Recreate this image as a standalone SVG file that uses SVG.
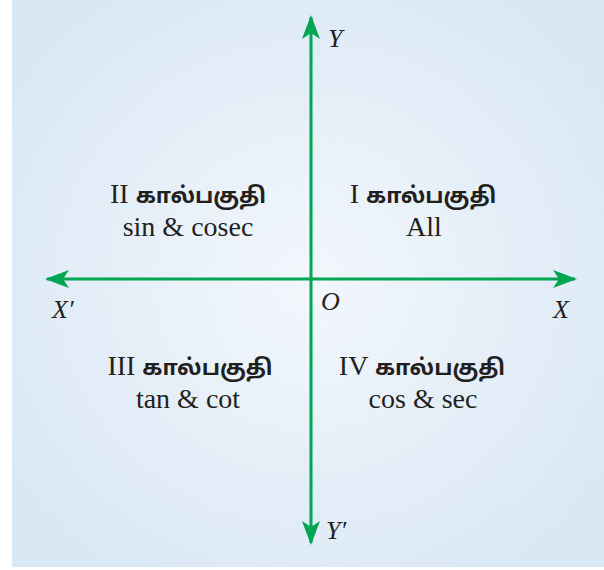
<svg xmlns="http://www.w3.org/2000/svg" width="604" height="570" viewBox="0 0 604 570">
<defs>
<radialGradient id="bg" cx="0.5" cy="0.5" r="0.6">
<stop offset="0" stop-color="#f3f7fc"/>
<stop offset="1" stop-color="#dae8f5"/>
</radialGradient>
<marker id="ah" viewBox="0 0 24 18" refX="22" refY="9" markerWidth="24" markerHeight="18" markerUnits="userSpaceOnUse" orient="auto-start-reverse">
<path d="M0,0 L24,9 L0,18 L6,9 Z" fill="#00a651"/>
</marker>
<style>
.ax{stroke:#00a651;stroke-width:3;fill:none}
.lb{font-family:'Liberation Serif','DejaVu Serif',serif;font-style:italic;font-size:26px;fill:#231f20}
.q{font-family:'Liberation Serif','DejaVu Serif',serif;font-size:28px;fill:#231f20;text-anchor:middle}
.ta{font-family:'Noto Sans Tamil','Lohit Tamil',sans-serif;font-size:22px;font-weight:bold}
</style>
</defs>
<rect x="12" y="0" width="592" height="567" fill="url(#bg)"/>
<g id="connectors">
<line class="ax" x1="311" y1="543" x2="311" y2="17" marker-start="url(#ah)" marker-end="url(#ah)"/>
<line class="ax" x1="47" y1="279" x2="575" y2="279" marker-start="url(#ah)" marker-end="url(#ah)"/>
</g>
<g id="labels">
<text class="lb" x="328" y="47">Y</text>
<text class="lb" x="326" y="539">Y′</text>
<text class="lb" x="52" y="318">X′</text>
<text class="lb" x="553" y="318">X</text>
<text class="lb" x="321" y="310">O</text>
</g>
<g id="q2">
<text class="q" x="188" y="203">II <tspan class="ta">கால்பகுதி</tspan></text>
<text class="q" x="188" y="236">sin &amp; cosec</text>
</g>
<g id="q1">
<text class="q" x="423" y="203">I <tspan class="ta">கால்பகுதி</tspan></text>
<text class="q" x="424" y="236">All</text>
</g>
<g id="q3">
<text class="q" x="190" y="375">III <tspan class="ta">கால்பகுதி</tspan></text>
<text class="q" x="188" y="408">tan &amp; cot</text>
</g>
<g id="q4">
<text class="q" x="422" y="375">IV <tspan class="ta">கால்பகுதி</tspan></text>
<text class="q" x="423" y="408">cos &amp; sec</text>
</g>
</svg>
